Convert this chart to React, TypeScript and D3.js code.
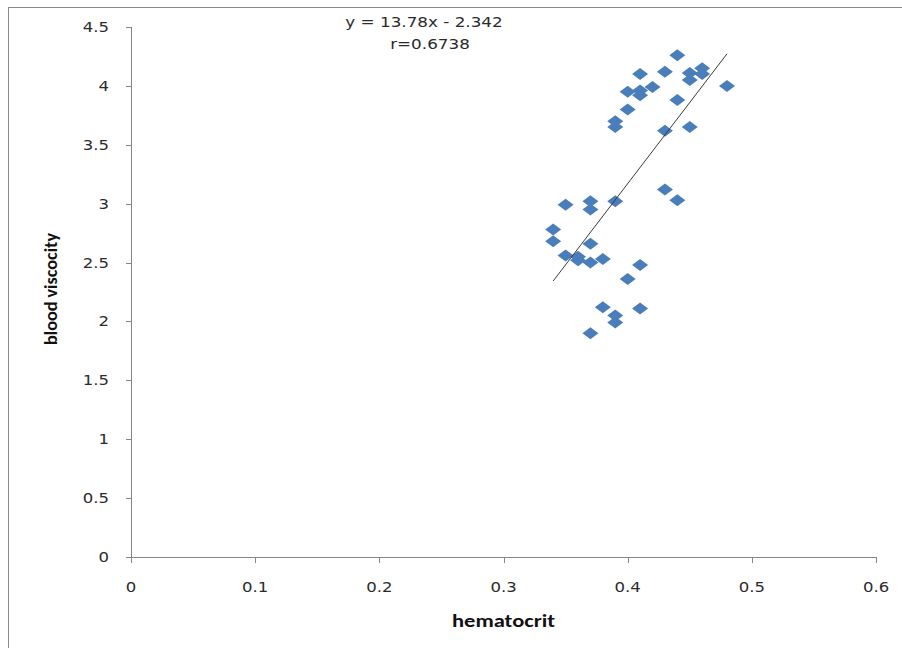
import React from "react";
import * as d3 from "d3";

const hematocrit = [
  0.44, 0.41, 0.43, 0.45, 0.46, 0.45, 0.46, 0.48, 0.40, 0.41, 0.41, 0.42, 0.44, 0.40, 0.39, 0.39, 0.43, 0.45,
  0.43, 0.44, 0.35, 0.37, 0.37, 0.39, 0.34, 0.34, 0.37, 0.35, 0.36, 0.36, 0.37, 0.38, 0.41, 0.40, 0.38, 0.41,
  0.39, 0.39, 0.37,
];
const viscosity = [
  4.26, 4.10, 4.12, 4.11, 4.15, 4.05, 4.10, 4.00, 3.95, 3.96, 3.92, 3.99, 3.88, 3.80, 3.70, 3.65, 3.62, 3.65,
  3.12, 3.03, 2.99, 3.02, 2.95, 3.02, 2.78, 2.68, 2.66, 2.56, 2.55, 2.52, 2.50, 2.53, 2.48, 2.36, 2.12, 2.11,
  2.05, 1.99, 1.90,
];
const xTicks = [0, 0.1, 0.2, 0.3, 0.4, 0.5, 0.6];
const yTicks = [0, 0.5, 1, 1.5, 2, 2.5, 3, 3.5, 4, 4.5];
const slope = 13.78;
const intercept = -2.342;
const equationText = "y = 13.78x - 2.342";
const rText = "r=0.6738";
const xTitle = "hematocrit";
const yTitle = "blood viscocity";

const W = 902;
const H = 648;
const left = 131;
const right = 876;
const top = 27;
const bottom = 557;

export default function App() {
  const x = d3.scaleLinear().domain([0, 0.6]).range([left, right]);
  const y = d3.scaleLinear().domain([0, 4.5]).range([bottom, top]);
  const axisColor = "#868686";
  const textColor = "#2b2b2b";
  const tickFont = "'DejaVu Sans', Verdana, sans-serif";
  const titleFont = "Carlito, 'Liberation Sans Narrow', 'DejaVu Sans Condensed', 'Open Sans', sans-serif";
  const xMin = d3.min(hematocrit) as number;
  const xMax = d3.max(hematocrit) as number;
  const fmt = (v: number) => String(v);
  const hw = 8;
  const hh = 6;
  const diamond = `M0,${-hh}L${hw},0L0,${hh}L${-hw},0Z`;

  return (
    <svg
      width={W}
      height={H}
      style={{ position: "absolute", left: 0, top: 0, background: "#fff" }}
    >
      <rect x={0} y={0} width={W} height={H} fill="#fff" />
      <rect x={8.5} y={7.5} width={1000} height={1000} fill="none" stroke="#8a8a8a" strokeWidth={1} />

      {/* axes */}
      <line x1={left + 0.5} x2={left + 0.5} y1={top} y2={bottom} stroke={axisColor} />
      <line x1={left} x2={right} y1={bottom + 0.5} y2={bottom + 0.5} stroke={axisColor} />
      {yTicks.map((t) => (
        <g key={"y" + t}>
          <line x1={left - 5} x2={left} y1={Math.round(y(t)) + 0.5} y2={Math.round(y(t)) + 0.5} stroke={axisColor} />
          <text
            transform={`translate(${left - 22},${y(t) + 5}) scale(1.18,1)`}
            textAnchor="end"
            fontFamily={tickFont}
            fontSize={14}
            fill={textColor}
          >
            {fmt(t)}
          </text>
        </g>
      ))}
      {xTicks.map((t) => (
        <g key={"x" + t}>
          <line x1={Math.round(x(t)) + 0.5} x2={Math.round(x(t)) + 0.5} y1={bottom} y2={bottom + 6} stroke={axisColor} />
          <text
            transform={`translate(${x(t)},${592}) scale(1.18,1)`}
            textAnchor="middle"
            fontFamily={tickFont}
            fontSize={14}
            fill={textColor}
          >
            {fmt(t)}
          </text>
        </g>
      ))}

      {/* points */}
      {hematocrit.map((h, i) => (
        <path key={i} d={diamond} transform={`translate(${x(h)},${y(viscosity[i])})`} fill="#4a7ebb" />
      ))}

      {/* trend line */}
      <line
        x1={x(xMin)}
        y1={y(slope * xMin + intercept)}
        x2={x(xMax)}
        y2={y(slope * xMax + intercept)}
        stroke="#3a3a3a"
        strokeWidth={1}
      />

      {/* equation */}
      <text
        transform={`translate(424,27) scale(1.2,1)`}
        textAnchor="middle"
        fontFamily={tickFont}
        fontSize={14}
        fill={textColor}
      >
        {equationText}
      </text>
      <text
        transform={`translate(430,49) scale(1.2,1)`}
        textAnchor="middle"
        fontFamily={tickFont}
        fontSize={14}
        fill={textColor}
      >
        {rText}
      </text>

      {/* titles */}
      <text
        x={503.5}
        y={627}
        textAnchor="middle"
        fontFamily={titleFont}
        fontWeight="bold"
        fontSize={18}
        fill="#111"
        textLength={103}
        lengthAdjust="spacingAndGlyphs"
      >
        {xTitle}
      </text>
      <text
        transform="translate(57,289) rotate(-90)"
        textAnchor="middle"
        fontFamily={titleFont}
        fontWeight="bold"
        fontSize={18}
        fill="#111"
        textLength={112}
        lengthAdjust="spacingAndGlyphs"
      >
        {yTitle}
      </text>
    </svg>
  );
}
